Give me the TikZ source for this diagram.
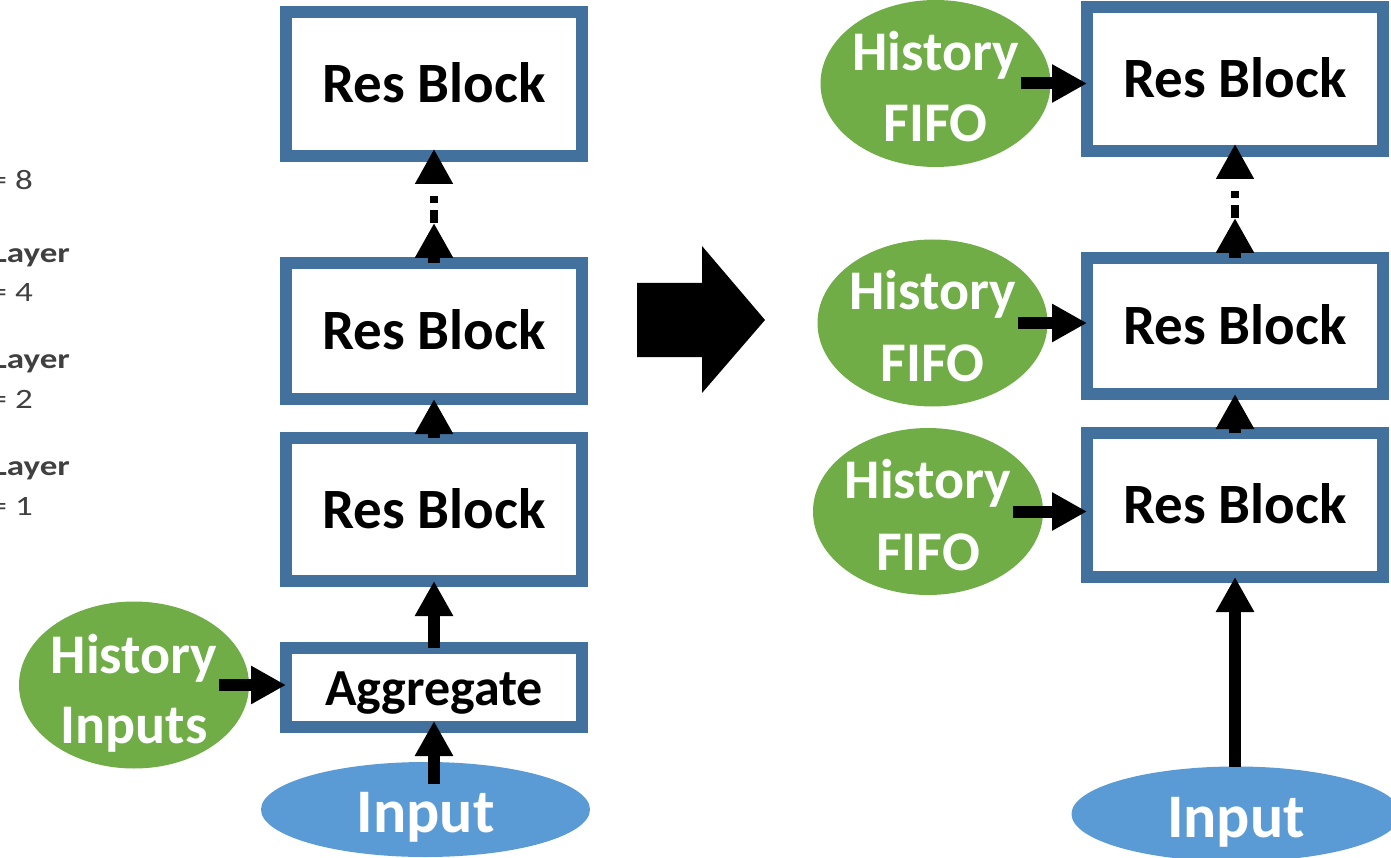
\documentclass[tikz,border=0pt]{standalone}
\usepackage{fontspec}
\setmainfont{Carlito}
\usetikzlibrary{arrows.meta,shapes.geometric}

\definecolor{boxblue}{HTML}{41719C}
\definecolor{histgreen}{HTML}{70AD47}
\definecolor{inblue}{HTML}{5B9BD5}

\newcommand{\widetext}[1]{\scalebox{1.25}[1]{#1}}

\tikzset{
  resbox/.style={rectangle, draw=boxblue, line width=12pt, fill=white,
    inner sep=0pt, outer sep=0pt, minimum width=296pt,
    font=\bfseries\fontsize{57pt}{68pt}\selectfont,
    text height=37pt, text depth=0pt},
  aggbox/.style={resbox, minimum height=79pt,
    font=\bfseries\fontsize{52pt}{62pt}\selectfont, text height=35pt},
  histblob/.style={ellipse, fill=histgreen, draw=none, inner sep=0pt,
    outer sep=0pt, minimum width=230pt, minimum height=167pt},
  histlabel/.style={text=white, inner sep=0pt,
    font=\bfseries\fontsize{56pt}{70pt}\selectfont,
    text height=36pt, text depth=0pt},
  inblob/.style={ellipse, fill=inblue, draw=none, inner sep=0pt,
    outer sep=0pt, minimum width=329pt, minimum height=95pt, text=white,
    font=\bfseries\fontsize{62pt}{74pt}\selectfont,
    text height=46pt, text depth=0pt},
  conn/.style={line width=12pt, -{Triangle[length=35pt,width=36pt]}},
  dotconn/.style={conn, line width=8pt,
    dash pattern=on 13pt off 7pt on 7pt off 40pt, shorten >=-7pt},
  sidelabel/.style={anchor=base east, inner sep=0pt, text=black!75,
    font=\fontsize{28pt}{34pt}\selectfont},
  sidehead/.style={sidelabel, font=\bfseries\fontsize{28pt}{34pt}\selectfont},
}

\begin{document}
\begin{tikzpicture}[x=1pt,y=-1pt]
  \path[fill=white, use as bounding box] (0,0) rectangle (1391,858);

  % layer labels along the left edge
  \node[sidelabel] (s8)  at (33,190) {\widetext{= 8}};
  \node[sidehead]  (s4a) at (70,263) {\widetext{Layer}};
  \node[sidelabel] (s4)  at (33,302) {\widetext{= 4}};
  \node[sidehead]  (s2a) at (70,368) {\widetext{Layer}};
  \node[sidelabel] (s2)  at (33,408) {\widetext{= 2}};
  \node[sidehead]  (s1a) at (70,475) {\widetext{Layer}};
  \node[sidelabel] (s1)  at (33,515) {\widetext{= 1}};

  % left stack: aggregate + res blocks
  \node[resbox, minimum height=144pt] (L1) at (434,84) {Res Block};
  \node[resbox, minimum height=136pt] (L2) at (434,331) {Res Block};
  \node[resbox, minimum height=143pt] (L3) at (434,509.5) {Res Block};
  \node[aggbox] (agg) at (434,687.5) {Aggregate};

  \node[histblob] (hin) at (134,685) {};
  \node[histlabel] (hinA) at ([yshift=30pt]hin.center) {History};
  \node[histlabel] (hinB) at ([yshift=-40.5pt]hin.center) {Inputs};

  \node[inblob] (in1) at (425.5,809.5) {Input};

  % transformation arrow
  \fill[black] (637,283) -- (702,283) -- (702,246) -- (765,320)
    -- (702,393) -- (702,357) -- (637,357) -- cycle;

  % right stack: res blocks fed by history FIFOs
  \node[resbox, minimum height=144pt] (R1) at (1235,79) {Res Block};
  \node[resbox, minimum height=136pt] (R2) at (1235,326) {Res Block};
  \node[resbox, minimum height=144pt] (R3) at (1235,505) {Res Block};

  \node[histblob] (f1) at (935.5,83.5) {};
  \node[histlabel] (f1A) at ([yshift=31pt]f1.center) {History};
  \node[histlabel] (f1B) at ([yshift=-40.5pt]f1.center) {FIFO};
  \node[histblob] (f2) at (932.5,323) {};
  \node[histlabel] (f2A) at ([yshift=31pt]f2.center) {History};
  \node[histlabel] (f2B) at ([yshift=-40.5pt]f2.center) {FIFO};
  \node[histblob] (f3) at (928,511.5) {};
  \node[histlabel] (f3A) at ([yshift=31pt]f3.center) {History};
  \node[histlabel] (f3B) at ([yshift=-40.5pt]f3.center) {FIFO};

  \node[inblob] (in2) at (1236,814) {Input};

  % left connectors
  \coordinate (hinout) at ([xshift=-30pt]hin.east);
  \draw[conn] (hinout) -- (hinout -| agg.west);
  \coordinate (in1top) at ([yshift=-22pt]in1.north);
  \draw[conn, shorten >=-6pt] (in1top -| agg.south) -- (agg.south);
  \draw[conn] (agg.north) -- (L3.south);
  \draw[conn] (L3.north) -- (L2.south);
  \coordinate (L2mid) at ([yshift=40pt]L2.north);
  \draw[conn] (L2.north) -- (L2mid);
  \draw[dotconn] (L2mid) -- (L1.south);

  % right connectors
  \coordinate (f1out) at ([xshift=-30pt]f1.east);
  \draw[conn] (f1out) -- (f1out -| R1.west);
  \coordinate (f2out) at ([xshift=-30pt]f2.east);
  \draw[conn] (f2out) -- (f2out -| R2.west);
  \coordinate (f3out) at ([xshift=-30pt]f3.east);
  \draw[conn] (f3out) -- (f3out -| R3.west);
  \draw[conn] (in2.north -| R3.south) -- (R3.south);
  \draw[conn] (R3.north) -- (R2.south);
  \coordinate (R2mid) at ([yshift=40pt]R2.north);
  \draw[conn] (R2.north) -- (R2mid);
  \draw[dotconn] (R2mid) -- (R1.south);
\end{tikzpicture}
\end{document}
